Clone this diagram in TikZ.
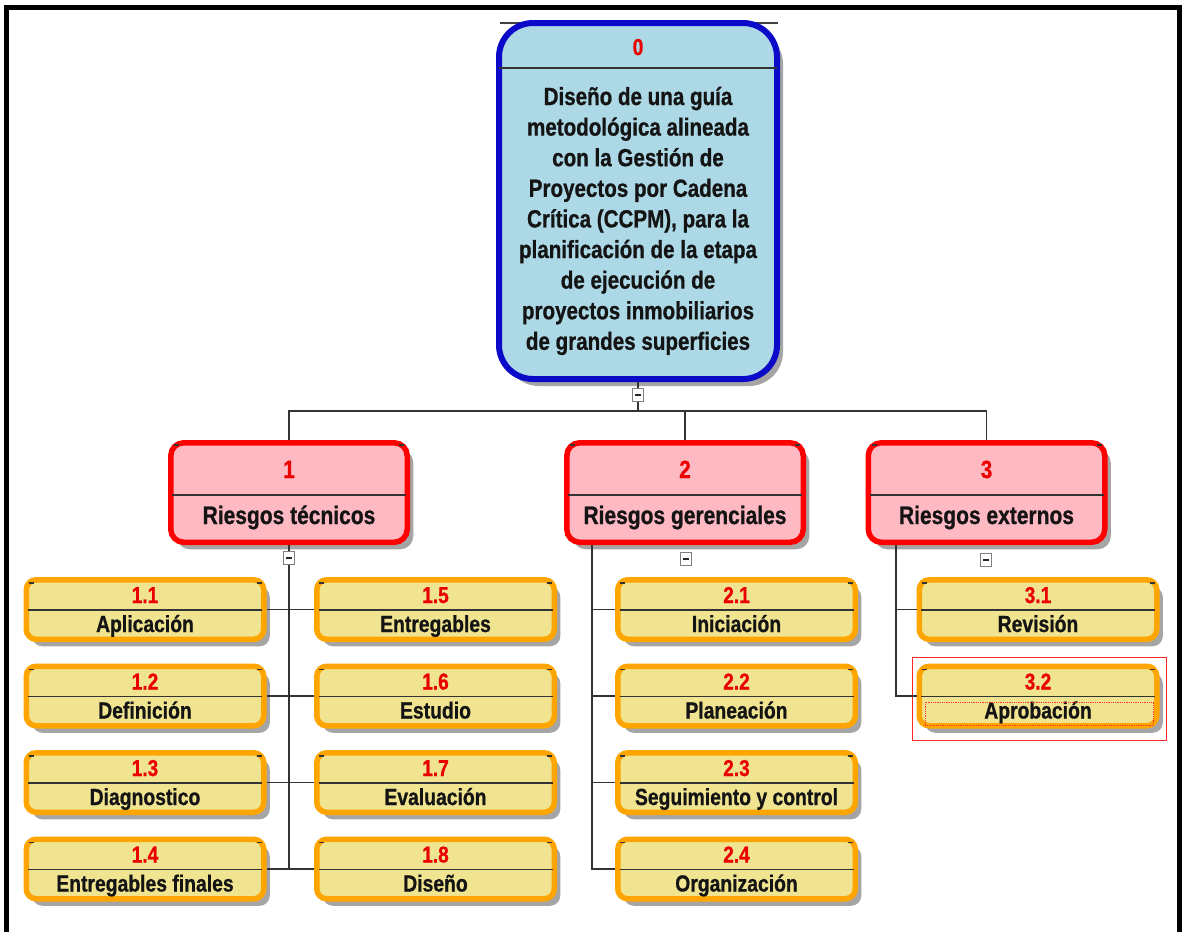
\documentclass[tikz,border=0pt]{standalone}
\usepackage{fontspec}
\setmainfont{Liberation Sans}[FakeStretch=0.83,FakeBold=0.8]
\usetikzlibrary{shadows}
\definecolor{rootfill}{RGB}{173,216,230}
\definecolor{rootdraw}{RGB}{10,10,200}
\definecolor{onefill}{RGB}{255,185,195}
\definecolor{onedraw}{RGB}{255,0,0}
\definecolor{twofill}{RGB}{240,228,145}
\definecolor{twodraw}{RGB}{255,165,0}
\definecolor{numred}{RGB}{235,0,0}
\definecolor{txt}{RGB}{20,20,20}
\definecolor{shadowgray}{RGB}{165,165,165}
\tikzset{
 boxshadow/.style={drop shadow={shadow xshift=6pt, shadow yshift=-7pt, fill=shadowgray, opacity=1}},
 rootbox/.style={draw=rootdraw, line width=6pt, fill=rootfill, rounded corners=34pt, minimum width=278pt, minimum height=356pt, inner sep=0pt, boxshadow},
 onebox/.style={draw=onedraw, line width=5.5pt, fill=onefill, rounded corners=13pt, minimum width=236.5pt, minimum height=99.5pt, inner sep=0pt, boxshadow},
 twobox/.style={draw=twodraw, line width=5.5pt, fill=twofill, rounded corners=10pt, minimum width=237.5pt, minimum height=59.5pt, inner sep=0pt, boxshadow},
 sepline/.style={draw=black!80, line width=1.5pt},
 conn/.style={draw=black!80, line width=1.3pt},
 cornertick/.style={draw=black!80, line width=1.5pt},
 foldmark/.style={draw=black!50, fill=white, line width=0.9pt, minimum width=11pt, minimum height=13pt, inner sep=0pt,
   path picture={\draw[black!85, line width=1.6pt] ([xshift=-3pt]path picture bounding box.center) -- ([xshift=3pt]path picture bounding box.center);}},
 rootnum/.style={text=numred, font=\fontsize{23}{23}\selectfont\bfseries, inner sep=0pt, anchor=base},
 rootline/.style={text=txt, font=\fontsize{24.8}{24.8}\selectfont\bfseries, inner sep=0pt, anchor=base},
 onenum/.style={text=numred, font=\fontsize{25}{25}\selectfont\bfseries, inner sep=0pt, anchor=base},
 onetxt/.style={text=txt, font=\fontsize{25.3}{25}\selectfont\bfseries, inner sep=0pt, anchor=base},
 twonum/.style={text=numred, font=\fontsize{23}{23}\selectfont\bfseries, inner sep=0pt, anchor=base},
 twotxt/.style={text=txt, font=\fontsize{23.3}{23}\selectfont\bfseries, inner sep=0pt, anchor=base},
}
\begin{document}
\begin{tikzpicture}[x=1pt,y=-1pt]
\useasboundingbox (0,0) rectangle (1182,932);
\fill[white] (0,0) rectangle (1182,932);
% outer frame
\draw[line width=5.5pt, line join=miter] (6.5,932) -- (6.5,7.5) -- (1179.5,7.5) -- (1179.5,932);

% root
\draw[black!75, line width=1.2pt] (500,23) -- (778,23);
\node[rootbox] (root) at (638,201) {};
\draw[sepline] (499,68) -- (777,68);
\node[rootnum] (rootn) at (638,55) {0};
\foreach \t [count=\i from 0] in {Diseño de una guía,metodológica alineada,con la Gestión de,Proyectos por Cadena,{Crítica (CCPM), para la},planificación de la etapa,de ejecución de,proyectos inmobiliarios,de grandes superficies}
  \node[rootline] (rootl\i) at (638,105+30.6*\i) {\t};

% level 1
\foreach \n/\cx/\t in {1/289/Riesgos técnicos,2/685/Riesgos gerenciales,3/986.5/Riesgos externos}{
  \node[onebox] (b\n) at (\cx,492.5) {};
  \draw[sepline] (\cx-117,495) -- (\cx+117,495);
  \node[onenum] (b\n n) at (\cx,478) {\n};
  \node[onetxt] (b\n t) at (\cx,524) {\t};
  \draw[cornertick] ([xshift=6pt,yshift=-5pt]b\n.north west) -- ++(5,0);
  \draw[cornertick] ([xshift=-11pt,yshift=-5pt]b\n.north east) -- ++(5,0);
}

% level 2
\foreach \n/\cx/\cy/\t in {
 11/145/609.5/Aplicación, 12/145/696/Definición, 13/145/782.5/Diagnostico, 14/145/869/Entregables finales,
 15/435.5/609.5/Entregables, 16/435.5/696/Estudio, 17/435.5/782.5/Evaluación, 18/435.5/869/Diseño,
 21/736.5/609.5/Iniciación, 22/736.5/696/Planeación, 23/736.5/782.5/Seguimiento y control, 24/736.5/869/Organización,
 31/1038/609.5/Revisión, 32/1038/696/Aprobación}{
  \node[twobox] (b\n) at (\cx,\cy) {};
  \draw[sepline] (\cx-117,\cy+0.5) -- (\cx+117,\cy+0.5);
  \pgfmathparse{int(\n/10)}\edef\major{\pgfmathresult}
  \pgfmathparse{int(mod(\n,10))}\edef\minor{\pgfmathresult}
  \node[twonum] (b\n n) at (\cx,\cy-6.5) {\major.\minor};
  \node[twotxt] (b\n t) at (\cx,\cy+22.5) {\t};
  \draw[cornertick] ([xshift=5pt,yshift=-6pt]b\n.north west) -- ++(5,0);
  \draw[cornertick] ([xshift=-10pt,yshift=-6pt]b\n.north east) -- ++(5,0);
}

% highlight around 3.2
\draw[red!85, line width=1pt] (912,657) rectangle (1166,740);
\draw[red!80, densely dotted, line width=0.8pt] (925,702) rectangle (1153,725);

% connectors
\coordinate (busL) at (289,411);
\coordinate (busR) at (986.5,411);
\draw[conn] (root.south) -- (root.south |- busL);
\draw[conn] (b1.north) -- (busL) -- (busR) -- (b3.north);
\draw[conn] (b2.north) -- (b2.north |- busL);

\draw[conn] (b1.south) -- (b1.south |- b14.east);
\foreach \i/\j in {11/15,12/16,13/17,14/18}
  \draw[conn] (b\i.east) -- (b\j.west);

\coordinate (t2) at (592,545);
\foreach \i in {21,22,23,24}
  \draw[conn] (t2) |- (b\i.west);

\coordinate (t3) at (896,545);
\foreach \i in {31,32}
  \draw[conn] (t3) |- (b\i.west);

% fold markers
\node[foldmark] (m0) at (638,395) {};
\node[foldmark] (m1) at (289,558) {};
\node[foldmark] (m2) at (686,559) {};
\node[foldmark] (m3) at (986,560) {};
\end{tikzpicture}
\end{document}
